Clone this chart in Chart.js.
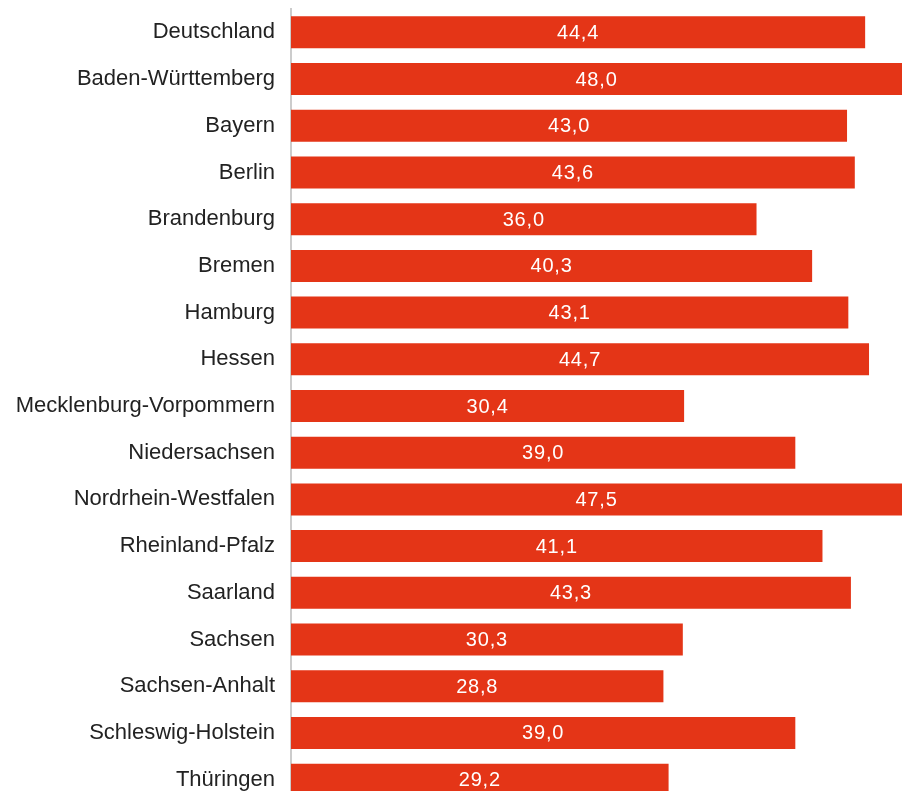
<!DOCTYPE html>
<html>
<head>
<meta charset="utf-8">
<script src="https://cdn.jsdelivr.net/npm/chart.js@4/dist/chart.umd.min.js"></script>
<style>
  html, body { margin: 0; padding: 0; background: #fff; overflow: hidden; }
  #wrap { width: 902px; height: 803px; }
</style>
</head>
<body>
<div id="wrap"><canvas id="barChart" width="902" height="803"></canvas></div>
<script>
var laender = ["Deutschland", "Baden-Württemberg", "Bayern", "Berlin", "Brandenburg", "Bremen",
    "Hamburg", "Hessen", "Mecklenburg-Vorpommern", "Niedersachsen", "Nordrhein-Westfalen",
    "Rheinland-Pfalz", "Saarland", "Sachsen", "Sachsen-Anhalt", "Schleswig-Holstein", "Thüringen"];
var werte = [44.4, 48.0, 43.0, 43.6, 36.0, 40.3, 43.1, 44.7, 30.4, 39.0, 47.5, 41.1, 43.3, 30.3, 28.8, 39.0, 29.2];
var xMax = 47.25;

var fontFamily = "'Liberation Sans', Arial, sans-serif";

// white value labels centred on the visible part of each bar
var valueLabels = {
    id: 'valueLabels',
    afterDatasetsDraw: function(chart) {
        var ctx = chart.ctx;
        var area = chart.chartArea;
        var meta = chart.getDatasetMeta(0);
        ctx.save();
        ctx.fillStyle = '#ffffff';
        ctx.font = '20px ' + fontFamily;
        ctx.letterSpacing = '0.8px';
        ctx.textAlign = 'center';
        ctx.textBaseline = 'middle';
        meta.data.forEach(function(bar, i) {
            var right = Math.min(bar.x, area.right);
            var cx = (bar.base + right) / 2;
            ctx.fillText(werte[i].toFixed(1).replace('.', ','), cx, bar.y + 1);
        });
        ctx.restore();
    }
};

var barChart = document.getElementById('barChart');

var myChart = new Chart(barChart, {
    type: 'bar',
    data: {
        labels: laender,
        datasets: [
            {
                data: werte,
                backgroundColor: "#e43517",
                barPercentage: 0.685,
                categoryPercentage: 1.0
            }
        ]
    },
    options: {
        indexAxis: 'y',
        responsive: false,
        animation: false,
        layout: { padding: { top: 9, right: 0, bottom: 0, left: 0 } },
        plugins: {
            legend: { display: false },
            tooltip: { enabled: false }
        },
        scales: {
            x: {
                display: false,
                min: 0,
                max: xMax
            },
            y: {
                grid: { display: false, drawTicks: false },
                border: { display: true, color: '#cccccc', width: 2 },
                ticks: {
                    color: '#222222',
                    padding: 16,
                    font: { family: fontFamily, size: 22 }
                },
                afterFit: function(scale) {
                    scale.width = 291;
                    scale.paddingTop = 0;
                    scale.paddingBottom = 0;
                }
            }
        }
    },
    plugins: [valueLabels]
});
</script>
</body>
</html>
